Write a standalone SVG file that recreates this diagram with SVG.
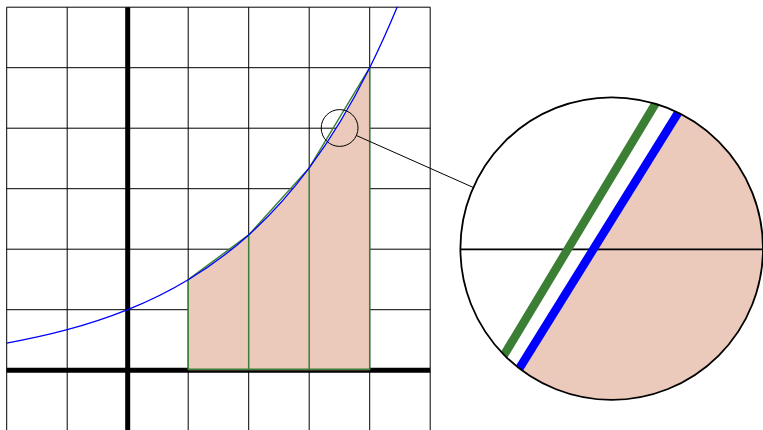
<svg xmlns="http://www.w3.org/2000/svg" width="763" height="430" viewBox="0 0 763 430">
  <style>
    .grid { stroke: #000; stroke-width: 1; fill: none; }
    .axis { stroke: #000; stroke-width: 5; fill: none; }
    .area { fill: #EBCABC; stroke: none; }
    .trap { stroke: #3B7F35; stroke-width: 1.5; fill: none; }
    .curve { stroke: #0000FF; stroke-width: 1.3; fill: none; }
    .ring { stroke: #000; fill: none; }
  </style>
  <defs>
    <clipPath id="plotClip">
      <rect x="6.7" y="6.7" width="423.5" height="424"/>
    </clipPath>
    <clipPath id="lensClip">
      <circle cx="611.7" cy="248.6" r="151.3"/>
    </clipPath>
  </defs>
  <rect x="0" y="0" width="763" height="430" fill="#fff"/>

  <g id="grid">
    <path class="grid" d="M6.7,7.2V430.7 M67.2,7.2V430.7 M188.2,7.2V430.7 M248.7,7.2V430.7 M309.2,7.2V430.7 M369.7,7.2V430.7 M430.2,7.2V430.7
      M6.7,7.2H430.2 M6.7,67.7H430.2 M6.7,128.2H430.2 M6.7,188.7H430.2 M6.7,249.2H430.2 M6.7,309.7H430.2 M6.7,430.7H430.2"/>
  </g>
  <g id="axes">
    <path class="axis" d="M6.7,370.2H430.2 M127.7,7.2V430.7"/>
  </g>

  <g id="area">
    <path class="area" d="M188.2,370.2 L188.2,279.73 C208.37,267.60 228.53,253.06 248.7,234.92 C268.87,216.78 289.03,195.04 309.2,167.91 C329.37,140.78 349.53,108.27 369.7,67.7 L369.7,370.2 Z"/>
  </g>

  <g id="trapezoids">
    <path class="trap" d="M188.2,369.3 L188.2,279.73 L248.7,234.92 L309.2,167.91 L369.7,67.7 L369.7,369.3 Z M248.7,369.3 V234.92 M309.2,369.3 V167.91"/>
  </g>

  <g id="curve" clip-path="url(#plotClip)">
    <path class="curve" d="M6.7,343.14 C26.87,339.51 47.03,335.17 67.2,329.74 C87.37,324.31 107.53,317.81 127.7,309.7 C147.87,301.59 168.03,291.86 188.2,279.73 C208.37,267.60 228.53,253.06 248.7,234.92 C268.87,216.78 289.03,195.04 309.2,167.91 C329.37,140.78 349.53,108.27 369.7,67.7 C379.78,47.41 389.87,25.09 399.95,0.28"/>
  </g>

  <g id="spy-source">
    <circle class="ring" cx="339.6" cy="128" r="18.4" stroke-width="1"/>
  </g>

  <g id="connectors">
    <line x1="356.4" y1="135.5" x2="473.6" y2="187.6" stroke="#000" stroke-width="1"/>
  </g>

  <g id="spy-lens">
    <g clip-path="url(#lensClip)">
      <rect x="455" y="90" width="310" height="320" fill="#fff"/>
      <polygon class="area" points="487.7,419.3 698.9,79.3 780,79.3 780,419.3"/>
      <line x1="455" y1="249.3" x2="770" y2="249.3" stroke="#000" stroke-width="1.8"/>
      <line x1="465.3" y1="419.3" x2="670.1" y2="79.3" stroke="#3B7F35" stroke-width="8.5"/>
      <line x1="487.7" y1="419.3" x2="698.9" y2="79.3" stroke="#0000FF" stroke-width="8.5"/>
    </g>
    <circle class="ring" cx="611.7" cy="248.6" r="151.3" stroke-width="1.8"/>
  </g>
</svg>
